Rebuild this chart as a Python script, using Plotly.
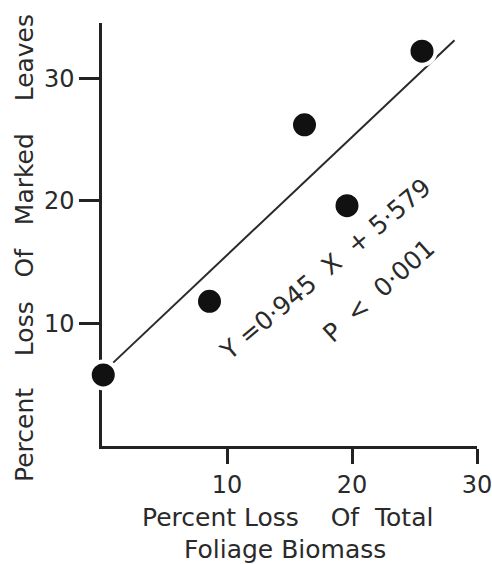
import plotly.graph_objects as go

# Data
loss_total = [0.1, 8.6, 16.2, 19.6, 25.6]      # Percent loss of total foliage biomass
loss_marked = [5.8, 11.8, 26.2, 19.6, 32.2]    # Percent loss of marked leaves
reg_x = [0.9, 28.2]                            # regression line ends
reg_y = [6.8, 33.1]
x_ticks = [10, 20, 30]
y_ticks = [10, 20, 30]

FONT = "DejaVu Sans"
INK = "#222222"
NB = "\u00a0"

fig = go.Figure()
fig.add_trace(go.Scatter(x=reg_x, y=reg_y, mode="lines",
                         line=dict(color="#2a2a2a", width=2), hoverinfo="skip",
                         showlegend=False))
fig.add_trace(go.Scatter(x=loss_total, y=loss_marked, mode="markers",
                         marker=dict(size=27, color="#111111",
                                     line=dict(color="white", width=4)),
                         cliponaxis=False, showlegend=False))

axis_common = dict(showline=True, linewidth=2.5, linecolor=INK, ticks="outside",
                   tickwidth=2.5, tickcolor=INK, showgrid=False, zeroline=False,
                   layer="below traces", automargin=False,
                   ticklabeloverflow="allow",
                   tickfont=dict(family=FONT, size=24, color="#2a2a2a"))

fig.update_xaxes(range=[0, 30], tickvals=x_ticks, ticklen=15, **axis_common)
fig.update_yaxes(range=[0, 34.5], tickvals=y_ticks, ticklen=20, **axis_common)

def px_x(p):
    return (p - 102) / 375.0

def px_y(p):
    return (446 - p) / 423.0

ytitle = ("Percent" + NB * 4 + "Loss" + NB * 3 + "Of" + NB * 3 + "Marked" + NB * 4 + "Leaves")
xtitle1 = ("Percent" + NB + "Loss" + NB * 4 + "Of" + NB * 2 + "Total")
xtitle2 = "Foliage" + NB + "Biomass"
eq = "Y" + NB + "=0·945" + NB * 2 + "X" + NB * 2 + "+" + NB + "5·579"
pval = "P" + NB * 2 + "<" + NB * 2 + "0·001"

tfont = dict(family=FONT, size=25, color="#2a2a2a")
anns = [
    dict(text=ytitle, x=px_x(24), y=px_y(248), textangle=-90),
    dict(text=xtitle1, x=px_x(287), y=px_y(517)),
    dict(text=xtitle2, x=px_x(285), y=px_y(549)),
    dict(text=eq, x=px_x(325), y=px_y(269), textangle=-40),
    dict(text=pval, x=px_x(378), y=px_y(291), textangle=-42),
]
for a in anns:
    fig.add_annotation(xref="paper", yref="paper", showarrow=False,
                       xanchor="center", yanchor="middle", font=tfont, **a)

fig.update_layout(width=492, height=564,
                  margin=dict(l=102, r=15, t=23, b=118),
                  paper_bgcolor="white", plot_bgcolor="white",
                  hovermode=False)

fig.write_html("out.html", config={"displayModeBar": False},
               post_script="document.body.style.margin='0';document.body.style.overflow='hidden';")
